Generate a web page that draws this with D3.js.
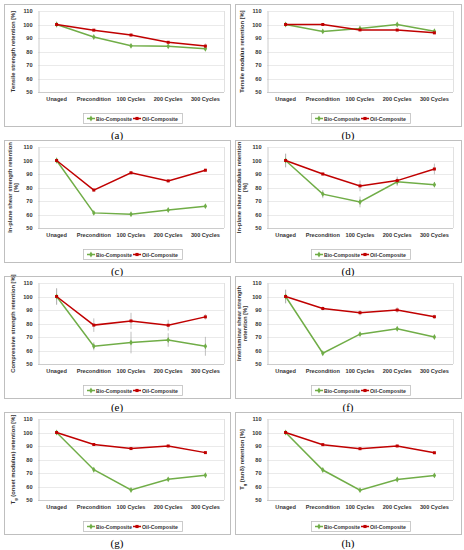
<!DOCTYPE html>
<html>
<head>
<meta charset="utf-8">
<script src="https://cdn.jsdelivr.net/npm/d3@7"></script>
<style>
  body { margin: 0; background: #fff; }
  svg { display: block; }
  .tick text { font-family: "Liberation Sans", Arial, sans-serif; font-weight: bold; font-size: 5.6px; fill: #333; }
</style>
</head>
<body>
<svg id="chart" width="464" height="550"></svg>
<script>
// categories on the x axis
const categories = ['Unaged', 'Precondition', '100 Cycles', '200  Cycles', '300 Cycles'];
const yTicks = [50, 60, 70, 80, 90, 100, 110];
const seriesNames = ['Bio-Composite', 'Oil-Composite'];

// (a) tensile strength
const bioTensileStrength = [100, 90.7, 84.2, 83.8, 82];
const oilTensileStrength = [100, 95.8, 92.2, 86.8, 84];
const bioTensileStrengthErr = [2, 1, 1, 1, 1.5];
const oilTensileStrengthErr = [2, 0.8, 0.8, 0.8, 2];

// (b) tensile modulus
const bioTensileModulus = [100, 94.9, 97.1, 100, 95];
const oilTensileModulus = [100, 100, 96, 95.9, 93.8];
const bioTensileModulusErr = [1, 0.8, 0.8, 0.8, 0.8];
const oilTensileModulusErr = [1, 0.8, 0.8, 0.8, 0.8];

// (c) in-plane shear strength
const bioShearStrength = [100, 61.2, 60.2, 63.3, 66.2];
const oilShearStrength = [100, 78.1, 90.9, 84.9, 92.8];
const bioShearStrengthErr = [2, 1, 1, 1, 1];
const oilShearStrengthErr = [2, 1, 1, 1, 1];

// (d) in-plane shear modulus
const bioShearModulus = [100, 75.1, 69.3, 84.2, 82.1];
const oilShearModulus = [100, 90, 81.2, 85.1, 93.7];
const bioShearModulusErr = [5, 3, 4, 3, 2];
const oilShearModulusErr = [5, 1, 4, 3, 4];

// (e) compressive strength
const bioCompressive = [100, 63.1, 65.9, 67.8, 63.1];
const oilCompressive = [100, 78.8, 81.9, 78.7, 84.9];
const bioCompressiveErr = [6, 3, 8, 5, 7];
const oilCompressiveErr = [6, 5, 6, 4, 2];

// (f) interlaminar shear strength
const bioIlss = [100, 58, 72.1, 76.1, 70];
const oilIlss = [100, 91.1, 88, 90, 85];
const bioIlssErr = [5, 1, 1, 1, 1];
const oilIlssErr = [5, 1.5, 2, 2, 1.5];

// (g) Tg onset modulus
const bioTgOnset = [100, 72.4, 57.4, 65.3, 68.3];
const oilTgOnset = [100, 91.1, 88.1, 90, 85.1];
const bioTgOnsetErr = [1, 0.8, 0.8, 0.8, 0.8];
const oilTgOnsetErr = [1, 0.8, 0.8, 0.8, 0.8];

// (h) Tg tan delta
const bioTgTand = [100, 72.2, 57.3, 65.2, 68.2];
const oilTgTand = [100, 91, 88, 90, 85];
const bioTgTandErr = [1, 0.8, 0.8, 0.8, 0.8];
const oilTgTandErr = [1, 0.8, 0.8, 0.8, 0.8];

const panels = [
  { tag: '(a)', title: ['Tensile strength retention [%]'], bio: bioTensileStrength, oil: oilTensileStrength, bioErr: bioTensileStrengthErr, oilErr: oilTensileStrengthErr },
  { tag: '(b)', title: ['Tensile modulus retention [%]'], bio: bioTensileModulus, oil: oilTensileModulus, bioErr: bioTensileModulusErr, oilErr: oilTensileModulusErr },
  { tag: '(c)', title: ['In-plane shear strength retention', '[%]'], bio: bioShearStrength, oil: oilShearStrength, bioErr: bioShearStrengthErr, oilErr: oilShearStrengthErr },
  { tag: '(d)', title: ['In-plane shear modulus retention', '[%]'], bio: bioShearModulus, oil: oilShearModulus, bioErr: bioShearModulusErr, oilErr: oilShearModulusErr },
  { tag: '(e)', title: ['Compressive strength retention [%]'], bio: bioCompressive, oil: oilCompressive, bioErr: bioCompressiveErr, oilErr: oilCompressiveErr },
  { tag: '(f)', title: ['Interlaminar shear strength', 'retention  [%]'], bio: bioIlss, oil: oilIlss, bioErr: bioIlssErr, oilErr: oilIlssErr },
  { tag: '(g)', title: ['T|g| (onset modulus) retention [%]'], bio: bioTgOnset, oil: oilTgOnset, bioErr: bioTgOnsetErr, oilErr: oilTgOnsetErr },
  { tag: '(h)', title: ['T|g| (tanδ) retention [%]'], bio: bioTgTand, oil: oilTgTand, bioErr: bioTgTandErr, oilErr: oilTgTandErr }
];

const green = '#70ad47';
const red = '#c00000';
const font = '"Liberation Sans", Arial, sans-serif';

const svg = d3.select('#chart');

panels.forEach((p, i) => {
  const col = i % 2;
  const row = Math.floor(i / 2);
  const ox = col === 0 ? 4 : 235;
  const oy = 4 + row * 136;
  const boxW = 226;
  const boxH = 122;
  const plotL = col === 0 ? 34 : 32;

  const g = svg.append('g').attr('transform', `translate(${ox},${oy})`);

  g.append('rect')
    .attr('x', 0.5).attr('y', 0.5)
    .attr('width', boxW).attr('height', boxH)
    .attr('fill', '#fff').attr('stroke', '#bfbfbf').attr('stroke-width', 1);

  const x = d3.scaleBand().domain(categories).range([plotL, plotL + 186]);
  const y = d3.scaleLinear().domain([50, 110]).range([88, 7]);
  const xr = x.range();
  const cx = k => x(categories[k]) + x.bandwidth() / 2;

  // gridlines and frame
  g.append('g').selectAll('line')
    .data(yTicks)
    .join('line')
    .attr('x1', xr[0]).attr('x2', xr[1])
    .attr('y1', d => Math.round(y(d)) + 0.5).attr('y2', d => Math.round(y(d)) + 0.5)
    .attr('stroke', d => d === 50 ? '#bfbfbf' : '#e4e4e4')
    .attr('stroke-width', 0.8);

  g.append('line')
    .attr('x1', xr[1] + 0.5).attr('x2', xr[1] + 0.5)
    .attr('y1', y(110)).attr('y2', y(50))
    .attr('stroke', '#d9d9d9').attr('stroke-width', 0.8);

  const yAxis = g.append('g')
    .attr('transform', `translate(${xr[0] + 0.5},0)`)
    .call(d3.axisLeft(y).tickValues(yTicks).tickSize(0).tickPadding(6));
  yAxis.select('.domain').attr('stroke', '#bfbfbf').attr('stroke-width', 0.8);

  const xAxis = g.append('g')
    .attr('transform', `translate(0,${y(50)})`)
    .call(d3.axisBottom(x).tickSize(0).tickPadding(5));
  xAxis.select('.domain').remove();

  // y title
  const tx = col === 0 ? 9 : 7;
  const title = g.append('text')
    .attr('transform', `translate(${tx},${y(80)}) rotate(-90)`)
    .attr('text-anchor', 'middle')
    .attr('font-family', font).attr('font-weight', 'bold')
    .attr('font-size', 5.8).attr('fill', '#333');
  p.title.forEach((line, li) => {
    const t = title.append('tspan')
      .attr('x', 0)
      .attr('dy', li === 0 ? (p.title.length > 1 ? -1 : 2) : 6);
    const parts = line.split('|');
    if (parts.length === 3) {
      t.text(parts[0]);
      title.append('tspan').attr('font-size', 4).attr('dy', 1.5).text(parts[1]);
      title.append('tspan').attr('dy', -1.5).text(parts[2]);
    } else {
      t.text(line);
    }
  });

  const line = d3.line()
    .x((d, k) => cx(k))
    .y(d => y(d));

  const series = [
    { values: p.bio, err: p.bioErr, color: green },
    { values: p.oil, err: p.oilErr, color: red }
  ];

  // error bars
  series.forEach(s => {
    g.append('g').selectAll('line')
      .data(s.values)
      .join('line')
      .attr('x1', (d, k) => cx(k))
      .attr('x2', (d, k) => cx(k))
      .attr('y1', (d, k) => y(d + s.err[k]))
      .attr('y2', (d, k) => y(d - s.err[k]))
      .attr('stroke', '#b0b0b0').attr('stroke-width', 0.8);
  });

  series.forEach((s, si) => {
    g.append('path')
      .datum(s.values)
      .attr('d', line)
      .attr('fill', 'none')
      .attr('stroke', s.color)
      .attr('stroke-width', 1.5);

    const sym = d3.symbol().type(si === 0 ? d3.symbolDiamond : d3.symbolSquare).size(si === 0 ? 10 : 9);
    g.append('g').selectAll('path')
      .data(s.values)
      .join('path')
      .attr('transform', (d, k) => `translate(${cx(k)},${y(d)})`)
      .attr('d', sym)
      .attr('fill', s.color);
  });

  // legend
  const lgX = col === 0 ? 79 : 76;
  const lg = g.append('g').attr('transform', `translate(${lgX},109)`);
  lg.append('rect')
    .attr('x', 0.5).attr('y', 0.5).attr('width', 99).attr('height', 10)
    .attr('fill', '#fff').attr('stroke', '#bfbfbf').attr('stroke-width', 0.8);
  seriesNames.forEach((name, si) => {
    const c = si === 0 ? green : red;
    const lx = 4 + si * 46;
    lg.append('line')
      .attr('x1', lx).attr('x2', lx + 8)
      .attr('y1', 5.5).attr('y2', 5.5)
      .attr('stroke', c).attr('stroke-width', 1.5);
    lg.append('path')
      .attr('transform', `translate(${lx + 4},5.5)`)
      .attr('d', d3.symbol().type(si === 0 ? d3.symbolDiamond : d3.symbolSquare).size(10))
      .attr('fill', c);
    lg.append('text')
      .attr('x', lx + 9).attr('y', 7.5)
      .attr('font-family', font).attr('font-weight', 'bold')
      .attr('font-size', 5.6).attr('fill', '#333')
      .attr('textLength', 36).attr('lengthAdjust', 'spacingAndGlyphs')
      .text(name);
  });

  // panel tag
  svg.append('text')
    .attr('x', ox + boxW / 2).attr('y', oy + 135)
    .attr('text-anchor', 'middle')
    .attr('font-family', '"Liberation Serif", "Times New Roman", serif')
    .attr('font-size', 11).attr('fill', '#000')
    .text(p.tag);
});
</script>
</body>
</html>
